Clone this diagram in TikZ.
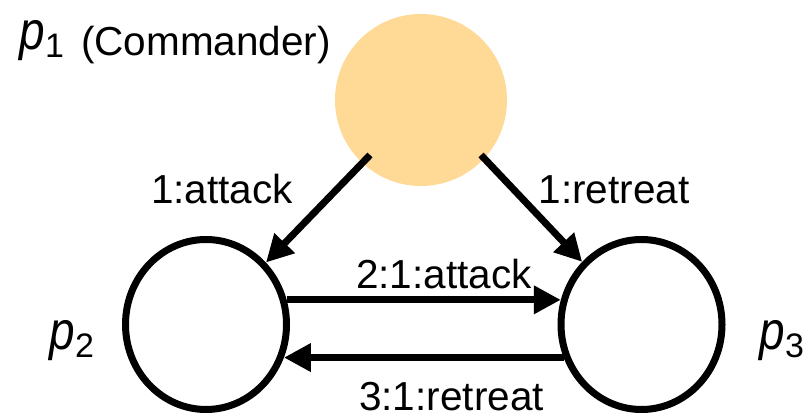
\documentclass[tikz,border=0pt]{standalone}
\usepackage{fontspec}
\setmainfont{Liberation Sans}
\usetikzlibrary{arrows.meta,shapes.geometric}
\definecolor{cmdfill}{RGB}{255,217,150}
\newcommand{\plabel}[1]{{\fontsize{54}{54}\selectfont\itshape\scalebox{0.85}[1]{p}}\kern0.5pt\raisebox{-8pt}{\fontsize{34}{34}\selectfont #1}}
\begin{document}
\begin{tikzpicture}[x=1pt,y=-1pt,
  proc/.style={draw, line width=7pt, ellipse, minimum width=161pt, minimum height=170pt, inner sep=0pt},
  cmd/.style={circle, fill=cmdfill, minimum size=172pt, inner sep=0pt},
  msg/.style={-{Triangle[length=27pt,width=27pt]}, line width=7pt},
  lbl/.style={font={\fontsize{40.5}{46}\selectfont}, anchor=base, inner sep=0pt},
  plab/.style={anchor=base west, inner sep=0pt}]
\useasboundingbox (0,0) rectangle (811,419);
\node[cmd] (c) at (421,100) {};
\node[proc] (p2) at (206,324.5) {};
\node[proc] (p3) at (641.5,324.5) {};
\coordinate (s2) at ([shift={(-51,55)}]c.center);
\coordinate (s3) at ([shift={(60,55)}]c.center);
\draw[msg] (s2) -- (p2);
\draw[msg] (s3) -- (p3);
\draw[msg] (p2.17) -- (p3.163);
\draw[msg] (p3.203) -- (p2.-23);
\node[lbl] (l1) at (222,204) {1:attack};
\node[lbl] (l2) at (614,204) {1:retreat};
\node[lbl] (l3) at (444,289) {2:1:attack};
\node[lbl] (l4) at (451.5,410) {3:1:retreat};
\node[lbl] (cm) at (206,56) {(Commander)};
\node[plab] (n1) at (19,50) {\plabel{1}};
\node[plab] (n2) at (49,350) {\plabel{2}};
\node[plab] (n3) at (759,350) {\plabel{3}};
\end{tikzpicture}
\end{document}
